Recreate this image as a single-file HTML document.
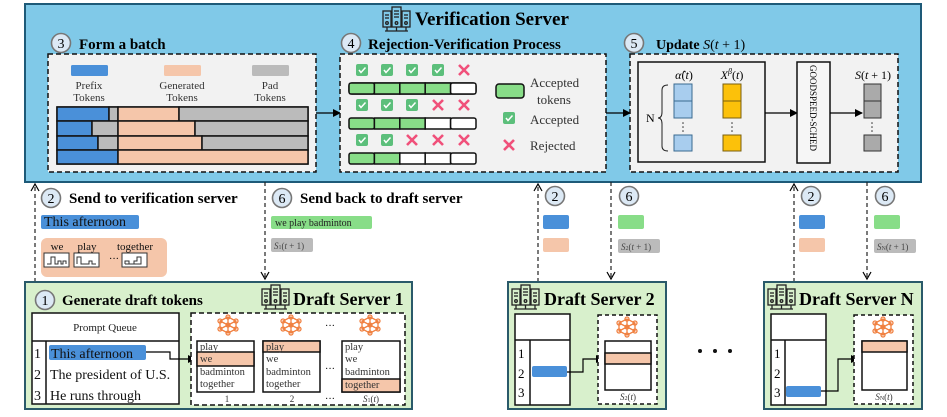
<!DOCTYPE html>
<html><head><meta charset="utf-8"><style>
html,body{margin:0;padding:0;background:#fff;}
svg{display:block;font-family:"Liberation Serif",serif;}
.b{font-weight:bold;}
</style></head><body>
<svg width="947" height="417" viewBox="0 0 947 417" xmlns="http://www.w3.org/2000/svg">
<defs>
<marker id="ah" markerWidth="8" markerHeight="8" refX="7" refY="4" orient="auto" markerUnits="userSpaceOnUse"><path d="M0,0 L8,4 L0,8 z" fill="#000"/></marker>
<marker id="oh" markerWidth="10" markerHeight="10" refX="8" refY="5" orient="auto" markerUnits="userSpaceOnUse"><path d="M1,1 L8,5 L1,9" fill="none" stroke="#000" stroke-width="1.2"/></marker>
<g id="srv" fill="none" stroke="#222" stroke-width="1.3">
<rect x="0" y="4" width="8" height="16"/><rect x="9" y="0" width="9" height="20"/><rect x="19" y="4" width="8" height="16"/>
<line x1="2" y1="8" x2="6" y2="8"/><line x1="2" y1="11" x2="6" y2="11"/><line x1="11" y1="4" x2="16" y2="4"/><line x1="11" y1="7" x2="16" y2="7"/><line x1="11" y1="10" x2="16" y2="10"/><line x1="21" y1="8" x2="25" y2="8"/><line x1="21" y1="11" x2="25" y2="11"/>
<circle cx="4" cy="16" r="1.3"/><circle cx="13.5" cy="16" r="1.3"/><circle cx="23" cy="16" r="1.3"/>
<line x1="2" y1="24" x2="25" y2="24"/><line x1="4" y1="20" x2="4" y2="24"/><line x1="13.5" y1="20" x2="13.5" y2="24"/><line x1="23" y1="20" x2="23" y2="24"/>
</g>
<g id="nn" fill="none" stroke="#f08040" stroke-width="1.3">
<circle cx="0" cy="-8" r="2"/><circle cx="-8" cy="-4" r="2"/><circle cx="8" cy="-4" r="2"/><circle cx="-8" cy="4" r="2"/><circle cx="8" cy="4" r="2"/><circle cx="0" cy="8" r="2"/><circle cx="0" cy="0" r="2"/>
<path d="M0,-8 L-8,-4 L-8,4 L0,8 L8,4 L8,-4 Z M0,-8 L0,8 M-8,-4 L8,4 M8,-4 L-8,4"/>
</g>
<g id="chk"><rect x="-6" y="-6" width="12" height="12" rx="2" fill="#5cbf7b"/><path d="M-3,0 L-1,2.5 L3.5,-2.5" stroke="#fff" stroke-width="1.5" fill="none"/></g>
<g id="crs"><path d="M-5,-5 L5,5 M5,-5 L-5,5" stroke="#f0507a" stroke-width="2.6"/></g>
<g id="c"><circle r="9.5" fill="#dce9f5" stroke="#777" stroke-width="1.6"/></g>
</defs>

<rect x="25" y="4" width="896" height="178" fill="#80c9e8" stroke="#1e5a78" stroke-width="2"/>
<use href="#srv" x="383" y="7"/>
<text x="415" y="25" class="b" font-size="19">Verification Server</text>

<use href="#c" x="61" y="43"/><text x="61" y="48" font-size="14" text-anchor="middle">3</text>
<text x="79" y="49" class="b" font-size="15">Form a batch</text>
<rect x="48" y="54" width="268" height="118" fill="#f2f2f2" stroke="#111" stroke-width="1.5" stroke-dasharray="5,3"/>
<rect x="71" y="65" width="37" height="11" rx="1.5" fill="#4a90d9"/>
<rect x="164" y="65" width="37" height="11" rx="1.5" fill="#f5c6aa"/>
<rect x="252" y="65" width="37" height="11" rx="1.5" fill="#bbb"/>
<g font-size="11" fill="#333" text-anchor="middle">
<text x="89" y="89">Prefix</text><text x="89" y="101">Tokens</text>
<text x="182" y="89">Generated</text><text x="182" y="101">Tokens</text>
<text x="270" y="89">Pad</text><text x="270" y="101">Tokens</text>
</g>
<g stroke="#111" stroke-width="1.5">
<rect x="57" y="107" width="251" height="57" fill="#fff"/>
<rect x="57" y="107" width="52" height="14" fill="#4a90d9"/><rect x="109" y="107" width="9" height="14" fill="#bbb"/><rect x="118" y="107" width="61" height="14" fill="#f5c6aa"/><rect x="179" y="107" width="129" height="14" fill="#bbb"/>
<rect x="57" y="121" width="35" height="15" fill="#4a90d9"/><rect x="92" y="121" width="26" height="15" fill="#bbb"/><rect x="118" y="121" width="77" height="15" fill="#f5c6aa"/><rect x="195" y="121" width="113" height="15" fill="#bbb"/>
<rect x="57" y="136" width="41" height="14" fill="#4a90d9"/><rect x="98" y="136" width="20" height="14" fill="#bbb"/><rect x="118" y="136" width="84" height="14" fill="#f5c6aa"/><rect x="202" y="136" width="106" height="14" fill="#bbb"/>
<rect x="57" y="150" width="61" height="14" fill="#4a90d9"/><rect x="118" y="150" width="190" height="14" fill="#f5c6aa"/>
</g>
<line x1="316" y1="113" x2="340" y2="113" stroke="#000" stroke-width="1.2" marker-end="url(#ah)"/>

<use href="#c" x="351" y="43"/><text x="351" y="48" font-size="14" text-anchor="middle">4</text>
<text x="368" y="49" class="b" font-size="15">Rejection-Verification Process</text>
<rect x="340" y="54" width="266" height="118" fill="#f2f2f2" stroke="#111" stroke-width="1.5" stroke-dasharray="5,3"/>
<g>
<use href="#chk" x="362" y="70"/><use href="#chk" x="387" y="70"/><use href="#chk" x="412" y="70"/><use href="#chk" x="438" y="70"/><use href="#crs" x="464" y="70"/>
<use href="#chk" x="362" y="105"/><use href="#chk" x="387" y="105"/><use href="#chk" x="412" y="105"/><use href="#crs" x="438" y="105"/><use href="#crs" x="464" y="105"/>
<use href="#chk" x="362" y="140"/><use href="#chk" x="387" y="140"/><use href="#crs" x="412" y="140"/><use href="#crs" x="438" y="140"/><use href="#crs" x="464" y="140"/>
</g>
<g stroke="#111" stroke-width="1.5">
<rect x="349" y="83" width="127" height="11" rx="3" fill="#fff"/>
<rect x="349" y="83" width="25.4" height="11" fill="#88dd88" rx="2"/><rect x="374.4" y="83" width="25.4" height="11" fill="#88dd88"/><rect x="399.8" y="83" width="25.4" height="11" fill="#88dd88"/><rect x="425.2" y="83" width="25.4" height="11" fill="#88dd88"/><rect x="450.6" y="83" width="25.4" height="11" fill="#fff" rx="2"/>
<rect x="349" y="118" width="25.4" height="11" fill="#88dd88" rx="2"/><rect x="374.4" y="118" width="25.4" height="11" fill="#88dd88"/><rect x="399.8" y="118" width="25.4" height="11" fill="#88dd88"/><rect x="425.2" y="118" width="25.4" height="11" fill="#fff"/><rect x="450.6" y="118" width="25.4" height="11" fill="#fff" rx="2"/>
<rect x="349" y="153" width="25.4" height="11" fill="#88dd88" rx="2"/><rect x="374.4" y="153" width="25.4" height="11" fill="#88dd88"/><rect x="399.8" y="153" width="25.4" height="11" fill="#fff"/><rect x="425.2" y="153" width="25.4" height="11" fill="#fff"/><rect x="450.6" y="153" width="25.4" height="11" fill="#fff" rx="2"/>
<rect x="496" y="84" width="28" height="14" rx="3" fill="#88dd88"/>
</g>
<g font-size="13" fill="#333">
<text x="530" y="87">Accepted</text><text x="537" y="104">tokens</text>
<text x="530" y="124">Accepted</text><text x="530" y="150">Rejected</text>
</g>
<use href="#chk" x="509" y="118"/><use href="#crs" x="509" y="145"/>
<line x1="606" y1="113" x2="630" y2="113" stroke="#000" stroke-width="1.2" marker-end="url(#ah)"/>

<use href="#c" x="634" y="43"/><text x="634" y="48" font-size="14" text-anchor="middle">5</text>
<text x="656" y="49" class="b" font-size="14">Update <tspan font-weight="normal" font-style="italic">S</tspan><tspan font-weight="normal">(</tspan><tspan font-weight="normal" font-style="italic">t</tspan><tspan font-weight="normal"> + 1)</tspan></text>
<rect x="630" y="54" width="268" height="118" fill="#f2f2f2" stroke="#111" stroke-width="1.5" stroke-dasharray="5,3"/>
<rect x="638" y="62" width="127" height="100" fill="none" stroke="#111" stroke-width="1.5"/>
<text x="684" y="79" font-size="12" text-anchor="middle"><tspan font-style="italic">α̂</tspan>(<tspan font-style="italic">t</tspan>)</text>
<text x="732" y="79" font-size="12" text-anchor="middle"><tspan font-style="italic">X</tspan><tspan font-size="8" dy="-5" font-style="italic">β</tspan><tspan dy="5">(</tspan><tspan font-style="italic">t</tspan>)</text>
<g stroke="#3a6a90" stroke-width="1"><rect x="674" y="84" width="18" height="17" fill="#a8cdee"/><rect x="674" y="101" width="18" height="17" fill="#a8cdee"/><rect x="674" y="135" width="18" height="16" fill="#a8cdee"/></g>
<g stroke="#7a6010" stroke-width="1"><rect x="723" y="84" width="18" height="17" fill="#fcc10a"/><rect x="723" y="101" width="18" height="17" fill="#fcc10a"/><rect x="723" y="135" width="18" height="16" fill="#fcc10a"/></g>
<g fill="#333"><circle cx="683" cy="123" r=".8"/><circle cx="683" cy="127" r=".8"/><circle cx="683" cy="131" r=".8"/><circle cx="732" cy="123" r=".8"/><circle cx="732" cy="127" r=".8"/><circle cx="732" cy="131" r=".8"/></g>
<path d="M668,85 Q662,85 662,90 L662,112 Q662,118 658,118 Q662,118 662,124 L662,146 Q662,151 668,151" fill="none" stroke="#222" stroke-width="1"/>
<text x="646" y="122" font-size="12">N</text>
<line x1="765" y1="113" x2="797" y2="113" stroke="#000" stroke-width="1.2" marker-end="url(#ah)"/>
<rect x="797" y="62" width="33" height="101" fill="#f6f6f6" stroke="#111" stroke-width="1.5"/>
<text transform="translate(810,65) rotate(90)" font-size="9">GOODSPEED-SCHED</text>
<line x1="830" y1="113" x2="862" y2="113" stroke="#000" stroke-width="1.2" marker-end="url(#ah)"/>
<text x="873" y="79" font-size="12" text-anchor="middle"><tspan font-style="italic">S</tspan>(<tspan font-style="italic">t</tspan> + 1)</text>
<g stroke="#333" stroke-width="1"><rect x="864" y="84" width="17" height="17" fill="#aaa"/><rect x="864" y="101" width="17" height="17" fill="#aaa"/><rect x="864" y="135" width="17" height="16" fill="#aaa"/></g>
<g fill="#333"><circle cx="872" cy="123" r=".8"/><circle cx="872" cy="127" r=".8"/><circle cx="872" cy="131" r=".8"/></g>

<g stroke="#222" stroke-width="1.2" stroke-dasharray="4,3" fill="none">
<line x1="35" y1="282" x2="35" y2="184" marker-end="url(#oh)"/>
<line x1="265" y1="182" x2="265" y2="279" marker-end="url(#oh)"/>
<line x1="538" y1="282" x2="538" y2="184" marker-end="url(#oh)"/>
<line x1="611" y1="182" x2="611" y2="279" marker-end="url(#oh)"/>
<line x1="794" y1="282" x2="794" y2="184" marker-end="url(#oh)"/>
<line x1="867" y1="182" x2="867" y2="279" marker-end="url(#oh)"/>
</g>

<use href="#c" x="51" y="198"/><text x="51" y="203" font-size="14" text-anchor="middle">2</text>
<text x="69" y="203" class="b" font-size="15">Send to verification server</text>
<use href="#c" x="282" y="198"/><text x="282" y="203" font-size="14" text-anchor="middle">6</text>
<text x="300" y="203" class="b" font-size="15">Send back to draft server</text>
<rect x="41" y="215" width="98" height="14" rx="2" fill="#4a90d9"/>
<text x="44" y="226" font-size="14" fill="#111">This afternoon</text>
<rect x="41" y="238" width="126" height="39" rx="6" fill="#f5c6aa"/>
<g font-size="11" fill="#111" text-anchor="middle"><text x="57" y="250">we</text><text x="87" y="250">play</text><text x="135" y="250">together</text></g>
<g fill="#fff" stroke="#333" stroke-width="1"><rect x="44" y="253" width="25" height="14"/><rect x="74" y="253" width="25" height="14"/><rect x="122" y="253" width="25" height="14"/></g>
<g fill="none" stroke="#333" stroke-width="1">
<path d="M47,264 L51,264 L51,257 L55,257 L55,264 L58,264 L58,261 L61,261 L61,264 L63,264 L63,261 L66,261 L66,264"/>
<path d="M77,264 L77,257 L81,257 L81,264 L84,264 L84,264 L89,264 L89,261 L92,261 L92,264 L96,264"/>
<path d="M125,264 L125,261 L129,261 L129,264 L134,264 L134,261 L137,261 L137,257 L141,257 L141,264 L125,264"/>
</g>
<text x="109" y="262" font-size="10">···</text>
<rect x="271" y="216" width="101" height="13" rx="2" fill="#88dd88"/>
<text x="275" y="226" font-size="10" fill="#222">we play badminton</text>
<rect x="271" y="238" width="42" height="14" rx="2" fill="#bbb"/>
<text x="274" y="249" font-size="9" fill="#444"><tspan font-style="italic">S</tspan><tspan font-size="6">1</tspan>(<tspan font-style="italic">t</tspan> + 1)</text>

<use href="#c" x="555" y="196"/><text x="555" y="201" font-size="14" text-anchor="middle">2</text>
<use href="#c" x="629" y="196"/><text x="629" y="201" font-size="14" text-anchor="middle">6</text>
<use href="#c" x="811" y="196"/><text x="811" y="201" font-size="14" text-anchor="middle">2</text>
<use href="#c" x="885" y="196"/><text x="885" y="201" font-size="14" text-anchor="middle">6</text>
<rect x="543" y="215" width="26" height="14" rx="2" fill="#4a90d9"/><rect x="543" y="238" width="26" height="14" rx="2" fill="#f5c6aa"/>
<rect x="618" y="215" width="26" height="14" rx="2" fill="#88dd88"/><rect x="618" y="239" width="42" height="14" rx="2" fill="#bbb"/>
<text x="621" y="250" font-size="9" fill="#444"><tspan font-style="italic">S</tspan><tspan font-size="6">2</tspan>(<tspan font-style="italic">t</tspan> + 1)</text>
<rect x="799" y="215" width="26" height="14" rx="2" fill="#4a90d9"/><rect x="799" y="238" width="26" height="14" rx="2" fill="#f5c6aa"/>
<rect x="874" y="215" width="26" height="14" rx="2" fill="#88dd88"/><rect x="874" y="239" width="42" height="14" rx="2" fill="#bbb"/>
<text x="877" y="250" font-size="9" fill="#444"><tspan font-style="italic">S</tspan><tspan font-size="6">N</tspan>(<tspan font-style="italic">t</tspan> + 1)</text>

<rect x="25" y="282" width="387" height="127" fill="#d8f0cc" stroke="#2a5a6a" stroke-width="2"/>
<use href="#c" x="45" y="300"/><text x="45" y="305" font-size="14" text-anchor="middle">1</text>
<text x="62" y="305" class="b" font-size="15">Generate draft tokens</text>
<use href="#srv" x="262" y="285"/>
<text x="293" y="305" class="b" font-size="18">Draft Server 1</text>
<rect x="32" y="313" width="147" height="91" fill="#fff" stroke="#111" stroke-width="1.5"/>
<line x1="32" y1="341" x2="179" y2="341" stroke="#111" stroke-width="1.5"/>
<line x1="46" y1="341" x2="46" y2="404" stroke="#111" stroke-width="1.5"/>
<text x="105" y="331" font-size="11" text-anchor="middle" fill="#222">Prompt Queue</text>
<rect x="49" y="345" width="97" height="15" rx="2" fill="#4a90d9"/>
<g font-size="14" fill="#111"><text x="34" y="358">1</text><text x="34" y="379">2</text><text x="34" y="400">3</text>
<text x="51" y="358">This afternoon</text><text x="50" y="379">The president of U.S.</text><text x="50" y="400">He runs through</text></g>
<path d="M146,352 L170,352 L170,359 L195,359" fill="none" stroke="#000" stroke-width="1.2" marker-end="url(#ah)"/>
<rect x="191" y="313" width="214" height="92" fill="#fff" stroke="#111" stroke-width="1.5" stroke-dasharray="5,3"/>
<use href="#nn" x="228" y="325"/><use href="#nn" x="291" y="325"/><use href="#nn" x="370" y="325"/>
<text x="325" y="329" font-size="10">···</text><text x="325" y="372" font-size="10">···</text><text x="325" y="402" font-size="10">···</text>
<g stroke="#111" stroke-width="1.5">
<rect x="197" y="341" width="57" height="51" fill="#fff"/><rect x="197" y="352" width="57" height="14" fill="#f5c6aa"/>
<rect x="263" y="341" width="57" height="51" fill="#fff"/><rect x="263" y="341" width="57" height="11" fill="#f5c6aa"/>
<rect x="342" y="341" width="58" height="51" fill="#fff"/><rect x="342" y="379" width="58" height="13" fill="#f5c6aa"/>
</g>
<g font-size="10.5" fill="#333">
<text x="200" y="350">play</text><text x="200" y="362">we</text><text x="200" y="375">badminton</text><text x="200" y="387">together</text>
<text x="266" y="350">play</text><text x="266" y="362">we</text><text x="266" y="375">badminton</text><text x="266" y="387">together</text>
<text x="345" y="350">play</text><text x="345" y="362">we</text><text x="345" y="375">badminton</text><text x="345" y="388">together</text>
</g>
<g font-size="9" text-anchor="middle" fill="#333"><text x="227" y="402">1</text><text x="292" y="402">2</text><text x="371" y="402"><tspan font-style="italic">S</tspan><tspan font-size="6">1</tspan>(<tspan font-style="italic">t</tspan>)</text></g>

<rect x="508" y="282" width="158" height="127" fill="#d8f0cc" stroke="#2a5a6a" stroke-width="2"/>
<use href="#srv" x="512" y="285"/>
<text x="544" y="305" class="b" font-size="18">Draft Server 2</text>
<rect x="515" y="314" width="55" height="91" fill="#fff" stroke="#111" stroke-width="1.5"/>
<line x1="515" y1="340" x2="570" y2="340" stroke="#111" stroke-width="1.5"/><line x1="530" y1="340" x2="530" y2="405" stroke="#111" stroke-width="1.5"/>
<g font-size="13"><text x="518" y="358">1</text><text x="518" y="378">2</text><text x="518" y="397">3</text></g>
<rect x="532" y="366" width="35" height="11" rx="2" fill="#4a90d9"/>
<path d="M567,372 L583,372 L583,359 L603,359" fill="none" stroke="#000" stroke-width="1.2" marker-end="url(#ah)"/>
<rect x="598" y="315" width="59" height="89" fill="#fff" stroke="#111" stroke-width="1.5" stroke-dasharray="4,3"/>
<use href="#nn" x="627" y="327"/>
<rect x="605" y="341" width="46" height="49" fill="#fff" stroke="#111" stroke-width="1.5"/><rect x="605" y="353" width="46" height="11" fill="#f5c6aa" stroke="#111" stroke-width="1.5"/>
<text x="628" y="400" font-size="9" text-anchor="middle" fill="#333"><tspan font-style="italic">S</tspan><tspan font-size="6">2</tspan>(<tspan font-style="italic">t</tspan>)</text>

<g fill="#111"><circle cx="700" cy="351" r="2"/><circle cx="715" cy="351" r="2"/><circle cx="730" cy="351" r="2"/></g>

<rect x="764" y="282" width="158" height="127" fill="#d8f0cc" stroke="#2a5a6a" stroke-width="2"/>
<use href="#srv" x="768" y="285"/>
<text x="799" y="305" class="b" font-size="18">Draft Server N</text>
<rect x="771" y="314" width="55" height="91" fill="#fff" stroke="#111" stroke-width="1.5"/>
<line x1="771" y1="340" x2="826" y2="340" stroke="#111" stroke-width="1.5"/><line x1="785" y1="340" x2="785" y2="405" stroke="#111" stroke-width="1.5"/>
<g font-size="13"><text x="774" y="358">1</text><text x="774" y="378">2</text><text x="774" y="397">3</text></g>
<rect x="786" y="386" width="35" height="11" rx="2" fill="#4a90d9"/>
<path d="M821,391 L838,391 L838,359 L858,359" fill="none" stroke="#000" stroke-width="1.2" marker-end="url(#ah)"/>
<rect x="854" y="315" width="59" height="89" fill="#fff" stroke="#111" stroke-width="1.5" stroke-dasharray="4,3"/>
<use href="#nn" x="883" y="327"/>
<rect x="862" y="341" width="45" height="49" fill="#fff" stroke="#111" stroke-width="1.5"/><rect x="862" y="341" width="45" height="11" fill="#f5c6aa" stroke="#111" stroke-width="1.5"/>
<text x="884" y="400" font-size="9" text-anchor="middle" fill="#333"><tspan font-style="italic">S</tspan><tspan font-size="6">N</tspan>(<tspan font-style="italic">t</tspan>)</text>
</svg>
</body></html>
